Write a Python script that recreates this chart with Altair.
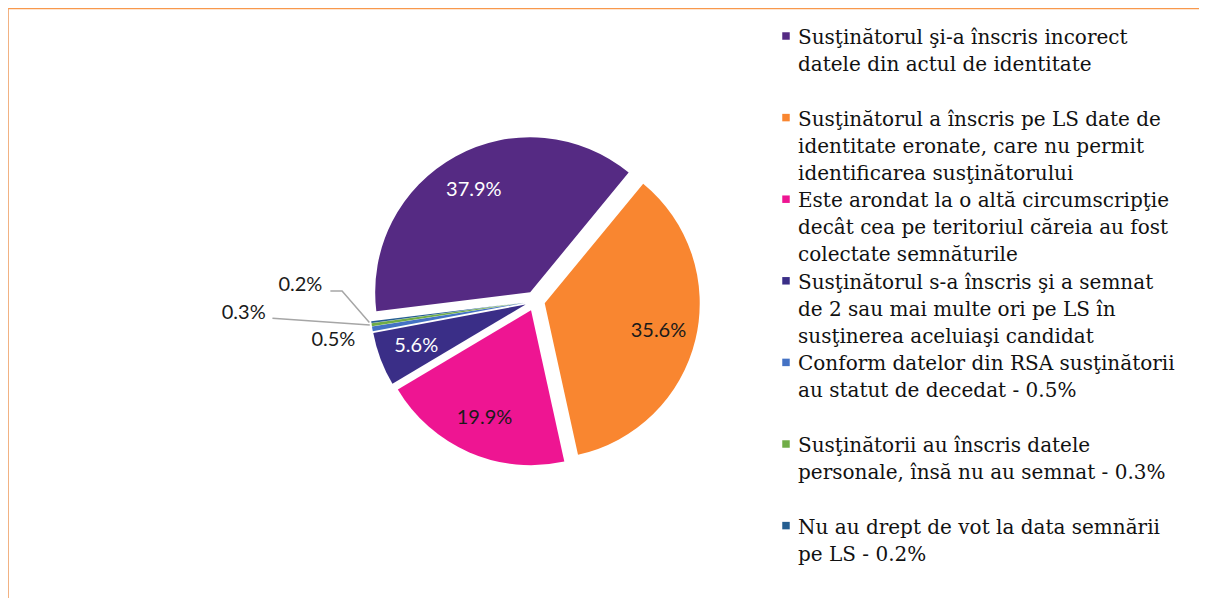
import math
import altair as alt
import pandas as pd

# ---------------- data ----------------
categories = [
    "Susţinătorul şi-a înscris incorect\ndatele din actul de identitate",
    "Susţinătorul a înscris pe LS date de\nidentitate eronate, care nu permit\nidentificarea susţinătorului",
    "Este arondat la o altă circumscripţie\ndecât cea pe teritoriul căreia au fost\ncolectate semnăturile",
    "Susţinătorul s-a înscris şi a semnat\nde 2 sau mai multe ori pe LS în\nsusţinerea aceluiaşi candidat",
    "Conform datelor din RSA susţinătorii\nau statut de decedat - 0.5%",
    "Susţinătorii au înscris datele\npersonale, însă nu au semnat - 0.3%",
    "Nu au drept de vot la data semnării\npe LS - 0.2%",
]
values = [37.9, 35.6, 19.9, 5.6, 0.5, 0.3, 0.2]
colors = ["#552A83", "#F98630", "#EE1592", "#3A2E87", "#4472C4", "#70AD47", "#255E91"]

# ---------------- layout ----------------
W, H = 1191, 590
CX, CY = 527, 293
R = 155
EXPLODE = 10
START = math.radians(263)
LABEL_R = 117
WHITE_LABELS = {0, 3}
# outside labels for tiny slices: offset of label centre from rim point
OUTSIDE = {
    4: {"dx": -37, "dy": 11, "leader": []},
    5: {"dx": -126, "dy": -12, "leader": [(28.7, 5.3)]},
    6: {"dx": -69, "dy": -37, "leader": [(30, 5.7), (41.7, 5.7)]},
}
PIE_FONT = "Lato"
LEGEND_FONT = "DejaVu Serif"

total = sum(values)
rows, lead_rows = [], []
cum = 0.0
for i, (c, v) in enumerate(zip(categories, values)):
    a0, a1 = cum, cum + v
    cum = a1
    mid = START + 2 * math.pi * ((a0 + a1) / 2) / total
    s, co = math.sin(mid), math.cos(mid)
    cx, cy = CX + EXPLODE * s, CY - EXPLODE * co
    rimx, rimy = cx + (R + 2) * s, cy - (R + 2) * co
    if i in OUTSIDE:
        lx, ly = rimx + OUTSIDE[i]["dx"], rimy + OUTSIDE[i]["dy"]
        if OUTSIDE[i]["leader"]:
            pts = [(lx + ox, ly + oy) for ox, oy in OUTSIDE[i]["leader"]] + [(rimx, rimy)]
            for k, (px, py) in enumerate(pts):
                lead_rows.append({"idx": i, "k": k, "px": px, "py": py})
    else:
        lx, ly = cx + LABEL_R * s, cy - LABEL_R * co
    rows.append({
        "cat": c, "value": v, "idx": i, "t0": a0, "t1": a1,
        "cx": cx, "cy": cy, "lx": lx, "ly": ly,
        "label": f"{v:.1f}%", "white": i in WHITE_LABELS,
    })
df = pd.DataFrame(rows)
lead = pd.DataFrame(lead_rows)

xs = alt.X("cx:Q", scale=None, axis=None)
ys = alt.Y("cy:Q", scale=None, axis=None)

legend = alt.Legend(
    title=None, orient="none", legendX=768, legendY=18, padding=0,
    symbolType="square", symbolSize=56, symbolStrokeWidth=0, symbolOpacity=1,
    labelFont=LEGEND_FONT, labelFontSize=20, labelColor="#111111",
    labelLimit=0, labelOffset=2, labelBaseline="alphabetic", rowPadding=5.6,
    labelExpr="length(split(datum.label, '\\n')) < 3 ? split(datum.label + '\\n ', '\\n') : split(datum.label, '\\n')",
)

arcs = alt.Chart(df).mark_arc(outerRadius=R, strokeWidth=0).encode(
    theta=alt.Theta("t0:Q", scale=alt.Scale(domain=[0, total], range=[START, START + 2 * math.pi]), stack=False),
    theta2="t1:Q",
    x=xs, y=ys,
    color=alt.Color("cat:N", scale=alt.Scale(domain=categories, range=colors), sort=categories, legend=legend),
    order=alt.Order("idx:Q"),
)

labels = alt.Chart(df).mark_text(font=PIE_FONT, fontSize=20, align="center", baseline="middle").encode(
    x=alt.X("lx:Q", scale=None, axis=None),
    y=alt.Y("ly:Q", scale=None, axis=None),
    text="label:N",
    color=alt.condition("datum.white", alt.value("#FFFFFF"), alt.value("#1a1a1a")),
)

leaders = alt.Chart(lead).mark_line(color="#A6A6A6", strokeWidth=1.5).encode(
    x=alt.X("px:Q", scale=None, axis=None),
    y=alt.Y("py:Q", scale=None, axis=None),
    detail="idx:N",
    order="k:Q",
)

frame = pd.DataFrame({"k": [0]})
top_border = alt.Chart(frame).mark_rule(color="#F8984C", strokeWidth=1.5).encode(
    x=alt.value(0), x2=alt.value(W + 8), y=alt.value(0.5)
)
left_border = alt.Chart(frame).mark_rule(color="#F8A365", strokeWidth=1.5).encode(
    x=alt.value(0), y=alt.value(0), y2=alt.value(H + 8)
)

chart = alt.layer(top_border, left_border, leaders, arcs, labels).properties(
    width=W, height=H, autosize=alt.AutoSizeParams(type="none"), padding=0,
    background="white",
).configure_view(strokeWidth=0).configure(
    style={"guide-label": {"lineHeight": 27, "dy": 8}}
)

chart.save("out.html", embed_options={"renderer": "svg", "actions": False})
